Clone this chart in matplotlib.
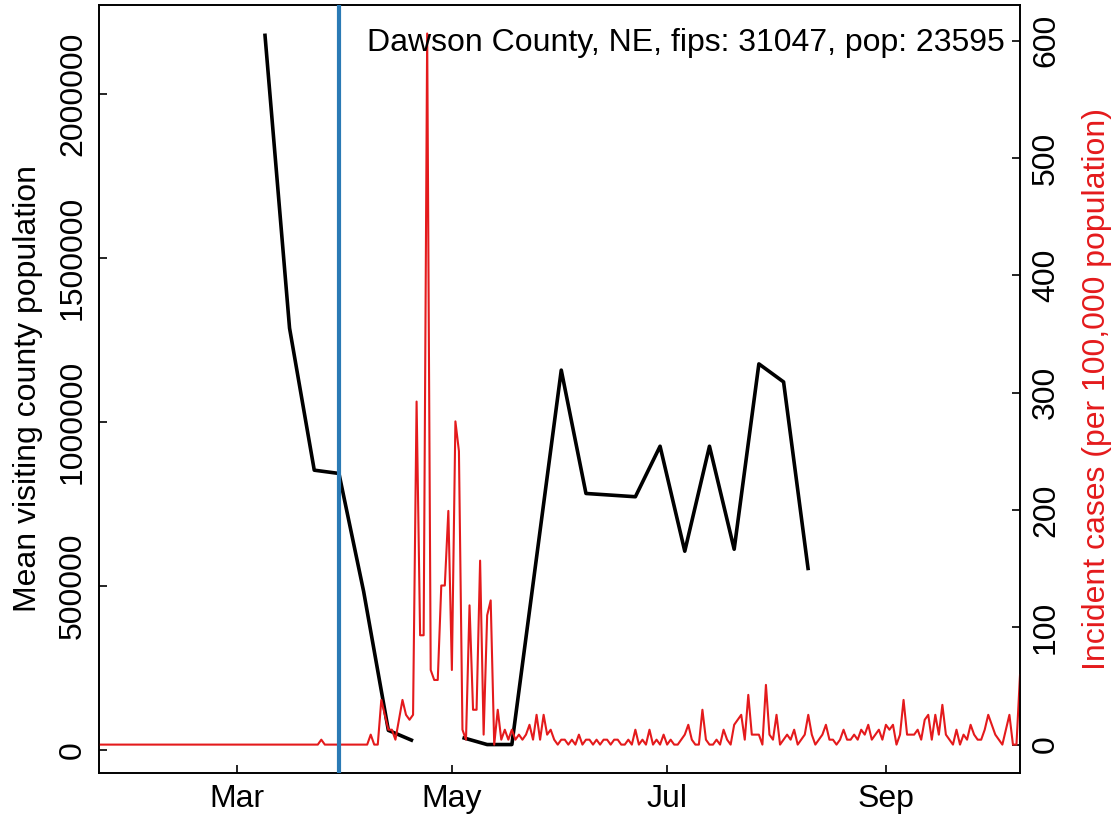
import numpy as np
import matplotlib
matplotlib.use("Agg")
import matplotlib.pyplot as plt

plt.rcParams['font.family'] = ['Liberation Sans', 'DejaVu Sans']

# ---------------- data ----------------
county_label = "Dawson County, NE, fips: 31047, pop: 23595"
start_date = np.datetime64('2020-01-22')
end_date = np.datetime64('2020-10-09')
intervention_date = np.datetime64('2020-03-30')

# mean visiting county population (weekly); NaN marks a missing week
visit_dates = ['2020-03-09', '2020-03-16', '2020-03-23', '2020-03-30', '2020-04-06',
               '2020-04-13', '2020-04-20', '2020-04-27', '2020-05-04', '2020-05-11',
               '2020-05-18', '2020-06-01', '2020-06-08', '2020-06-22', '2020-06-29',
               '2020-07-06', '2020-07-13', '2020-07-20', '2020-07-27', '2020-08-03',
               '2020-08-10']
visit_values = [2184000, 1286000, 853000, 843000, 483000,
                60000, 28000, np.nan, 38000, 16600,
                16600, 1158000, 782000, 772000, 926000,
                606000, 926000, 612000, 1177000, 1122000,
                548000]

# daily incident cases per 100,000 population, starting 2020-01-22
incident = (
    [0.0] * 60 +
    [0, 0, 0, 4.2, 0, 0, 0, 0, 0, 0] +
    [0, 0, 0, 0, 0, 0, 0, 8.5, 0, 0] +
    [38.1, 25.4, 12.7, 12.7, 4.2, 21.2, 38.1, 25.4, 21.2, 25.4] +
    [292.4, 93.2, 93.2, 606.1, 63.6, 55.1, 55.1, 135.6, 135.6, 199.2] +
    [63.6, 275.5, 250.1, 12.7, 4.2, 118.7, 29.7, 29.7, 156.8, 8.5] +
    [110.2, 122.9, 0, 29.7, 4.2, 12.7, 4.2, 12.7, 4.2, 8.5] +
    [4.2, 8.5, 16.9, 4.2, 25.4, 4.2, 25.4, 8.5, 12.7, 4.2] +
    [0, 4.2, 4.2, 0, 4.2, 0, 8.5, 0, 4.2, 4.2] +
    [0, 4.2, 0, 4.2, 4.2, 0, 4.2, 4.2, 0, 0] +
    [4.2, 0, 12.7, 0, 4.2, 0, 12.7, 0, 4.2, 0] +
    [8.5, 0, 4.2, 0, 0, 4.2, 8.5, 16.9, 4.2, 0] +
    [0, 29.7, 4.2, 0, 0, 4.2, 0, 12.7, 4.2, 0] +
    [16.9, 21.2, 25.4, 4.2, 42.4, 8.5, 8.5, 8.5, 0, 50.9] +
    [8.5, 4.2, 25.4, 0, 4.2, 8.5, 4.2, 12.7, 0, 4.2] +
    [8.5, 25.4, 8.5, 0, 4.2, 8.5, 16.9, 4.2, 4.2, 0] +
    [4.2, 12.7, 4.2, 4.2, 8.5, 4.2, 12.7, 8.5, 16.9, 4.2] +
    [8.5, 12.7, 4.2, 16.9, 12.7, 16.9, 0, 8.5, 38.1, 8.5] +
    [8.5, 8.5, 12.7, 4.2, 21.2, 25.4, 4.2, 25.4, 8.5, 33.9] +
    [8.5, 4.2, 0, 12.7, 0, 8.5, 4.2, 16.9, 8.5, 4.2] +
    [4.2, 12.7, 25.4, 16.9, 8.5, 4.2, 0, 12.7, 25.4, 0] +
    [0, 59.3]
)

x_tick_dates = ['2020-03-01', '2020-05-01', '2020-07-01', '2020-09-01']
x_tick_labels = ['Mar', 'May', 'Jul', 'Sep']
left_ticks = [0, 500000, 1000000, 1500000, 2000000]
right_ticks = [0, 100, 200, 300, 400, 500, 600]

# ---------------- plot ----------------
W, H = 1119, 822
fig = plt.figure(figsize=(W / 100, H / 100), dpi=100)
ax = fig.add_axes([99 / W, (H - 773) / H, (1020 - 99) / W, (773 - 5) / H])

vd = np.array(visit_dates, dtype='datetime64[D]')
ax.plot(vd, visit_values, color='black', lw=2.6, solid_capstyle='butt', zorder=2)
ax.set_xlim(start_date, end_date)
ax.set_ylim(-70100, 2271000)

ax2 = ax.twinx()
inc_dates = start_date + np.arange(len(incident))
ax2.plot(inc_dates, incident, color='#E41A1C', lw=1.5, zorder=2)
ax2.axvline(intervention_date, color='#2A7AB5', lw=3.0, zorder=3)
ax2.set_ylim(-24.2, 630.4)

fs = 23
ax.set_xticks(np.array(x_tick_dates, dtype='datetime64[D]'))
ax.set_xticklabels(x_tick_labels)
ax.set_yticks(left_ticks)
ax.set_yticklabels([str(v) for v in left_ticks], rotation=90, va='center')
ax2.set_yticks(right_ticks)
ax2.set_yticklabels([str(v) for v in right_ticks], rotation=90, va='center')

ax.tick_params(axis='x', direction='in', length=5.5, width=1.2, labelsize=fs, pad=8)
ax.tick_params(axis='y', direction='in', length=5.5, width=1.2, labelsize=fs, pad=8)
ax2.tick_params(axis='y', direction='in', length=5.5, width=1.2, labelsize=fs, pad=8)

for a in (ax, ax2):
    for s in a.spines.values():
        s.set_linewidth(1.2)

fig.text(28 / W, 1 - 389 / H, 'Mean visiting county population', rotation=90,
         ha='center', va='center', fontsize=fs)
fig.text(1097 / W, 1 - 389 / H, 'Incident cases (per 100,000 population)', rotation=90,
         ha='center', va='center', fontsize=fs, color='#E41A1C')
fig.text(1005 / W, 1 - 43 / H, county_label, ha='right', va='center', fontsize=fs)

fig.savefig('out.png', dpi=100)
